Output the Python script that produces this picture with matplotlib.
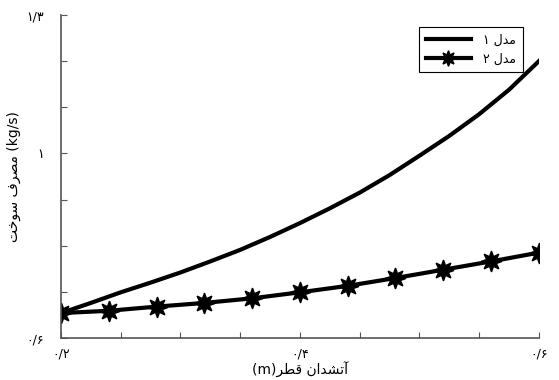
"""Fuel consumption vs firebox diameter, two models (Persian labels)."""
import matplotlib
matplotlib.use("Agg")
import matplotlib.pyplot as plt
import numpy as np

# model 1: smooth curve
diam_1 = [0.2, 0.225, 0.25, 0.275, 0.3, 0.325, 0.35, 0.375, 0.4,
          0.425, 0.45, 0.475, 0.5, 0.525, 0.55, 0.575, 0.6]
fuel_1 = [0.654, 0.676, 0.699, 0.720, 0.742, 0.766, 0.791, 0.819, 0.849,
          0.881, 0.915, 0.953, 0.995, 1.038, 1.085, 1.138, 1.200]

# model 2: marked points
diam_2 = [0.2, 0.24, 0.28, 0.32, 0.36, 0.4, 0.44, 0.48, 0.52, 0.56, 0.6]
fuel_2 = [0.654, 0.659, 0.668, 0.676, 0.686, 0.699, 0.713, 0.730, 0.748,
          0.766, 0.785]

x_ticks = [0.2, 0.25, 0.3, 0.35, 0.4, 0.45, 0.5, 0.55, 0.6]
x_labels = ["۰/۲", "", "", "", "۰/۴", "", "", "", "۰/۶"]
y_ticks = [0.6, 0.7, 0.8, 0.9, 1.0, 1.1, 1.2, 1.3]
y_labels = ["۰/۶", "", "", "", "۱", "", "", "۱/۳"]

# Persian text in visual (left-to-right) order with presentation forms,
# since matplotlib does no shaping or bidi
LEG_1 = "۱ \uFEDD\uFEAA\uFEE3"
LEG_2 = "۲ \uFEDD\uFEAA\uFEE3"
XLABEL = "(m)\uFEAE\uFEC4\uFED7 \uFEE5\uFE8D\uFEAA\uFEB8\uFE97\uFE81"
YLABEL = "\uFE96\uFEA7\uFEEE\uFEB3 \uFED1\uFEAE\uFEBC\uFEE3 (kg/s)"

plt.rcParams["font.family"] = ["DejaVu Sans"]

fig = plt.figure(figsize=(5.59, 3.8), dpi=100)
ax = fig.add_axes([0.109, 0.1105, 0.855, 0.85])

ax.plot(diam_1, fuel_1, color="black", lw=3.0, label=LEG_1)
ax.plot(diam_2, fuel_2, color="black", lw=3.0, marker=(8, 1, 0), ms=15,
        label=LEG_2)

ax.set_xlim(0.2, 0.6)
ax.set_ylim(0.6, 1.3)
ax.set_xticks(x_ticks)
ax.set_xticklabels(x_labels, fontsize=9)
ax.set_yticks(y_ticks)
ax.set_yticklabels(y_labels, fontsize=9)
ax.tick_params(direction="in", length=4, color="#555555")
ax.tick_params(axis="x", pad=7)
ax.tick_params(axis="y", pad=12)
for side in ("top", "right"):
    ax.spines[side].set_visible(False)
for side in ("left", "bottom"):
    ax.spines[side].set_color("#555555")
    ax.spines[side].set_linewidth(1.2)

ax.set_xlabel(XLABEL, fontsize=10, labelpad=1)
ax.set_ylabel(YLABEL, fontsize=10, labelpad=4)

leg = ax.legend(loc="upper right", bbox_to_anchor=(0.967, 0.963), fontsize=9,
                fancybox=False, edgecolor="black", framealpha=1,
                borderaxespad=0, handlelength=3.6, handletextpad=1.0,
                borderpad=0.55, labelspacing=0.45, markerscale=0.75)
leg.get_frame().set_linewidth(0.8)

fig.savefig("out.png", dpi=100)
